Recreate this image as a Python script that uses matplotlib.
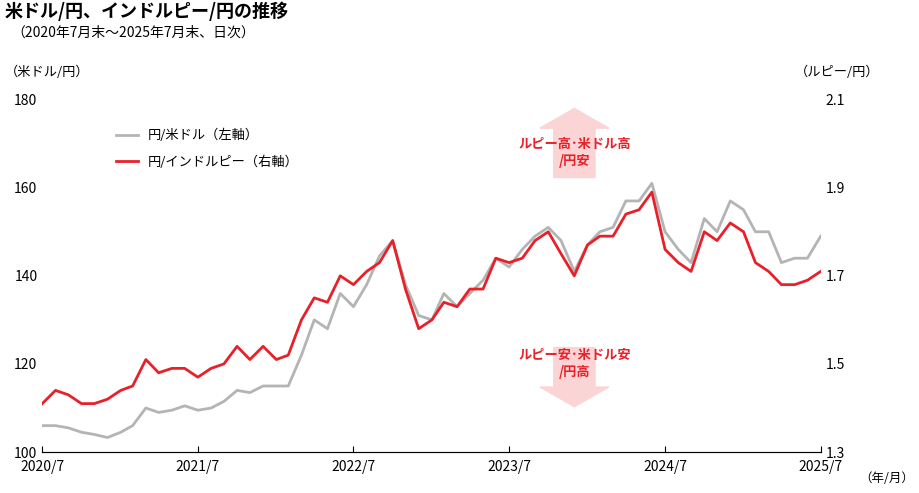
import matplotlib
matplotlib.use("Agg")
import matplotlib.pyplot as plt
import numpy as np
import pandas as pd
from matplotlib.patches import FancyArrow

plt.rcParams['font.family'] = ['Noto Sans CJK JP', 'DejaVu Sans']

# monthly approximations (2020/7 .. 2025/7)
usd_jpy = [106, 106, 105.5, 104.5, 104, 103.3,
           104.5, 106, 110, 109, 109.5, 110.5, 109.5, 110, 111.5, 114, 113.5, 115,
           115, 115, 122, 130, 128, 136, 133, 138, 144.5, 148, 138, 131,
           130, 136, 133, 136, 139, 144, 142, 146, 149, 151, 148, 141,
           147, 150, 151, 157, 157, 161, 150, 146, 143, 153, 150, 157,
           155, 150, 150, 143, 144, 144, 149]
inr_jpy = [1.41, 1.44, 1.43, 1.41, 1.41, 1.42,
           1.44, 1.45, 1.51, 1.48, 1.49, 1.49, 1.47, 1.49, 1.50, 1.54, 1.51, 1.54,
           1.51, 1.52, 1.60, 1.65, 1.64, 1.70, 1.68, 1.71, 1.73, 1.78, 1.67, 1.58,
           1.60, 1.64, 1.63, 1.67, 1.67, 1.74, 1.73, 1.74, 1.78, 1.80, 1.75, 1.70,
           1.77, 1.79, 1.79, 1.84, 1.85, 1.89, 1.76, 1.73, 1.71, 1.80, 1.78, 1.82,
           1.80, 1.73, 1.71, 1.68, 1.68, 1.69, 1.71]
dates = pd.date_range("2020-07-31", periods=len(usd_jpy), freq="ME")
tick_dates = pd.to_datetime(["2020-07-31", "2021-07-31", "2022-07-31", "2023-07-31", "2024-07-31", "2025-07-31"])
tick_labels = ["2020/7", "2021/7", "2022/7", "2023/7", "2024/7", "2025/7"]

fig = plt.figure(figsize=(9.19, 4.93), dpi=100)
ax = fig.add_axes([0.046, 0.083, 0.847, 0.715])
ax2 = ax.twinx()

ax.plot(dates, usd_jpy, color="#b4b4b4", lw=2, label="円/米ドル（左軸）")
ax2.plot(dates, inr_jpy, color="#e8202a", lw=2, label="円/インドルピー（右軸）")
ax.set_zorder(ax2.get_zorder() - 1); ax2.patch.set_visible(False)
ax.patch.set_visible(False)

ax.set_ylim(100, 180); ax.set_yticks([100, 120, 140, 160, 180])
ax2.set_ylim(1.3, 2.1); ax2.set_yticks([1.3, 1.5, 1.7, 1.9, 2.1])
ax2.set_yticklabels(["1.3", "1.5", "1.7", "1.9", "2.1"])
ax.set_xlim(tick_dates[0], tick_dates[-1])
ax.set_xticks(tick_dates); ax.set_xticklabels(tick_labels)
for a in (ax, ax2):
    a.tick_params(labelsize=10, length=0)
    for s in ("top", "left", "right"):
        a.spines[s].set_visible(False)
ax.tick_params(axis="x", direction="in", length=4, pad=6)
ax.spines["bottom"].set_color("#555555")

h1, l1 = ax.get_legend_handles_labels()
h2, l2 = ax2.get_legend_handles_labels()
ax2.legend(h1 + h2, l1 + l2, loc="upper left", bbox_to_anchor=(0.08, 0.95),
           frameon=False, fontsize=9.5, handlelength=1.6, labelspacing=1.0)

fig.text(0.005, 0.965, "米ドル/円、インドルピー/円の推移", fontsize=13, fontweight="bold")
fig.text(0.012, 0.925, "（2020年7月末～2025年7月末、日次）", fontsize=10)
fig.text(0.005, 0.845, "（米ドル/円）", fontsize=9.5)
fig.text(0.865, 0.845, "（ルピー/円）", fontsize=9.5)
fig.text(0.935, 0.022, "（年/月）", fontsize=9)

# direction arrows
fig.patches.append(FancyArrow(0.625, 0.64, 0, 0.10, width=0.045, head_width=0.075,
                              head_length=0.04, color="#fbd5d5", transform=fig.transFigure, zorder=0))
fig.patches.append(FancyArrow(0.625, 0.295, 0, -0.08, width=0.045, head_width=0.075,
                              head_length=0.04, color="#fbd5d5", transform=fig.transFigure, zorder=0))
fig.text(0.625, 0.69, "ルピー高･米ドル高\n/円安", color="#e8202a", fontsize=9.5,
         fontweight="bold", ha="center", va="center", linespacing=1.3)
fig.text(0.625, 0.262, "ルピー安･米ドル安\n/円高", color="#e8202a", fontsize=9.5,
         fontweight="bold", ha="center", va="center", linespacing=1.3)

fig.savefig("out.png", dpi=100)
